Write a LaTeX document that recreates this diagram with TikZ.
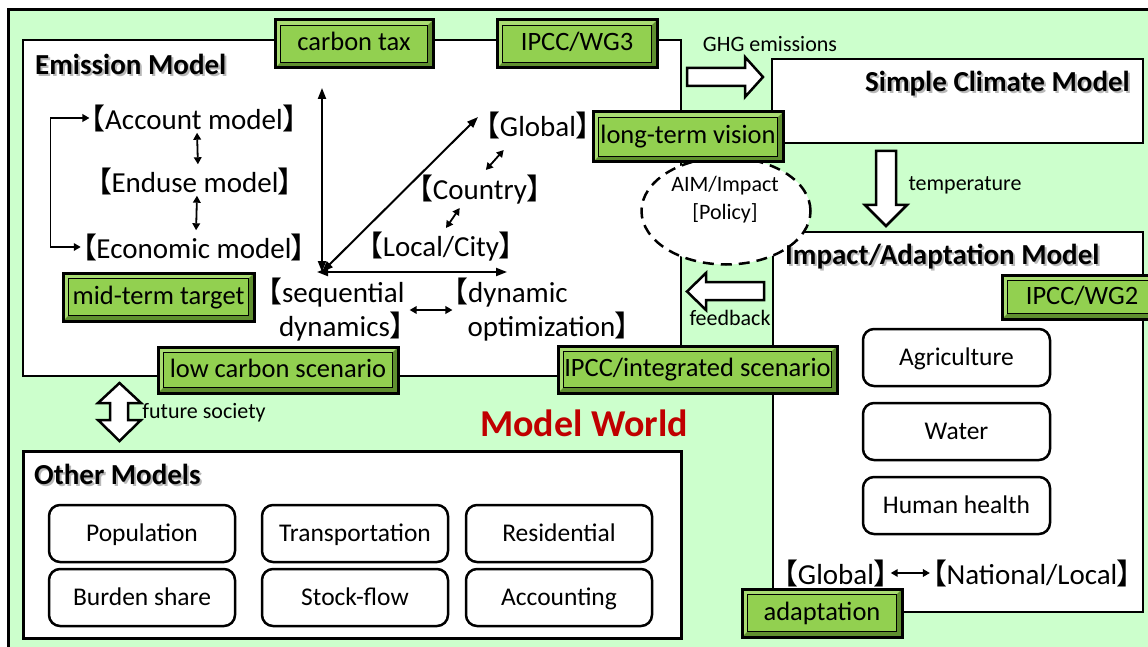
\documentclass[tikz,border=0pt]{standalone}
\usepackage{fontspec}
\setmainfont{Carlito}
\newfontfamily\cjkf[RawFeature=+palt]{Noto Sans CJK JP}
\usetikzlibrary{arrows.meta,shapes.geometric,calc}
\newcommand{\lbk}{{\cjkf 【}}
\newcommand{\rbk}{{\cjkf 】}}
\definecolor{bggreen}{HTML}{CCFFCC}
\definecolor{taggreen}{HTML}{92D050}
\definecolor{taglight}{HTML}{A9DC72}
\definecolor{tagdark}{HTML}{5F8F2F}
\definecolor{mwred}{HTML}{C00000}
\tikzset{
 box/.style={draw=black, line width=2pt, fill=white, anchor=north west, inner sep=0},
 ttl/.style={font=\fontsize{29}{34}\selectfont\bfseries, inner sep=0},
 shd/.style={ttl, text=black!28},
 lbl/.style={font=\fontsize{29}{34}\selectfont, inner sep=0},
 sml/.style={font=\fontsize{22}{28}\selectfont, inner sep=0},
 tag/.style={draw=black, line width=3pt, fill=taglight, inner sep=0,
   text height=18pt, text depth=4pt,
   font=\fontsize{26.5}{30}\selectfont,
   path picture={
     \fill[tagdark] (path picture bounding box.south west) -| (path picture bounding box.north east)
        -- ([shift={(-5.5pt,-5.5pt)}]path picture bounding box.north east)
        |- ([shift={(5.5pt,5.5pt)}]path picture bounding box.south west) -- cycle;
     \draw[line width=1.8pt, fill=taggreen] ([shift={(5.5pt,5.5pt)}]path picture bounding box.south west)
        rectangle ([shift={(-5.5pt,-5.5pt)}]path picture bounding box.north east);
   }},
 rbox/.style={draw=black, line width=2.5pt, fill=white, rounded corners=11pt,
   minimum width=186pt, minimum height=57pt, inner sep=0, text height=17pt, text depth=1pt,
   font=\fontsize{25.5}{30}\selectfont},
 blk/.style={draw=black, fill=white, line width=2.5pt, line join=miter},
 sa/.style={{Triangle[length=7pt,width=7.5pt]}-{Triangle[length=7pt,width=7.5pt]}, line width=1.8pt},
 ax/.style={{Triangle[length=11pt,width=8pt]}-{Triangle[length=11pt,width=8pt]}, line width=2pt},
}
\begin{document}
\begin{tikzpicture}[x=1pt,y=-1pt]
\useasboundingbox (0,0) rectangle (1148,647);
\fill[white] (0,0) rectangle (1148,647);
\clip (0,0) rectangle (1148,647);
\draw[line width=3pt, fill=bggreen] (8,10) rectangle (1175,675);

% main boxes
\node[box, minimum width=658pt, minimum height=336pt] (em) at (22,39) {};
\node[box, minimum width=371pt, minimum height=84pt] (scm) at (771,58) {};
\node[box, minimum width=370pt, minimum height=380pt] (iam) at (772,231) {};
\node[box, line width=2.5pt, minimum width=658pt, minimum height=187pt] (om) at (22,450) {};

% dashed ellipse
\node[ellipse, draw=black, dash pattern=on 11pt off 7pt, line width=2.5pt, fill=white,
  minimum width=169pt, minimum height=107pt, inner sep=0] (aim) at (726,211) {};
\node[sml, align=center] (aimt) at (725,200) {AIM/Impact\\{[Policy]}};

% titles
\node[shd, anchor=west] (emts) at (37,66) {Emission Model};
\node[ttl, anchor=west] (emt) at (35,64) {Emission Model};
\node[shd, anchor=east] (scmts) at (1132,86) {Simple Climate Model};
\node[ttl, anchor=east] (scmt) at (1130,84) {Simple Climate Model};
\node[shd, anchor=west] (iamts) at (787,259) {Impact/Adaptation Model};
\node[ttl, anchor=west] (iamt) at (785,257) {Impact/Adaptation Model};
\node[shd, anchor=west] (omts) at (36,476) {Other Models};
\node[ttl, anchor=west] (omt) at (34,474) {Other Models};
\node[font=\fontsize{38}{44}\selectfont\bfseries, text=mwred, inner sep=0] (mw) at (584,423) {Model World};

% emission model labels
\node[lbl] (acc) at (194,118) {\lbk Account model\rbk};
\node[lbl] (end) at (195,181) {\lbk Enduse model\rbk};
\node[lbl] (eco) at (194,247) {\lbk Economic model\rbk};
\node[lbl] (glob) at (538,125) {\lbk Global\rbk};
\node[lbl] (ctry) at (480,190) {\lbk Country\rbk};
\node[lbl] (loc) at (441,247) {\lbk Local/City\rbk};
\node[lbl, align=right] (seq) at (336,310) {\lbk sequential\\dynamics\rbk};
\node[lbl, align=left] (dyn) at (541.75,310) {\lbk dynamic\\\hspace*{14pt}optimization\rbk};

% impact labels
\node[lbl] (gl2) at (836,573) {\lbk Global\rbk};
\node[lbl] (nat) at (1032,573) {\lbk National/Local\rbk};

% rounded boxes
\node[rbox] (pop) at (142,533.5) {Population};
\node[rbox] (trn) at (355,533.5) {Transportation};
\node[rbox] (res) at (559,533.5) {Residential};
\node[rbox] (bur) at (142,597.5) {Burden share};
\node[rbox] (stk) at (355,597.5) {Stock-flow};
\node[rbox] (acn) at (559,597.5) {Accounting};
\node[rbox, minimum width=187pt] (agr) at (956.5,357.5) {Agriculture};
\node[rbox, minimum width=187pt] (wat) at (956.5,431.5) {Water};
\node[rbox, minimum width=187pt] (hum) at (956.5,505.5) {Human health};

% tags
\node[tag, minimum width=158pt, minimum height=48pt] (ctax) at (354,44) {carbon tax};
\node[tag, minimum width=160pt, minimum height=48pt] (wg3) at (577,44) {IPCC/WG3};
\node[tag, minimum width=190pt, minimum height=50pt] (ltv) at (688,137) {long-term vision};
\node[tag, minimum width=191pt, minimum height=48pt] (mtt) at (158.5,297) {mid-term target};
\node[tag, minimum width=240pt, minimum height=46pt] (lcs) at (278,370) {low carbon scenario};
\node[tag, minimum width=279pt, minimum height=47pt] (iis) at (697.5,369.5) {IPCC/integrated scenario};
\node[tag, minimum width=160pt, minimum height=44pt] (wg2) at (1082,297) {IPCC/WG2};
\node[tag, minimum width=160pt, minimum height=48pt] (adp) at (822,613) {adaptation};

% block arrows
\draw[blk] (687,68) -- (745,68) -- (745,57) -- (763,77) -- (745,97) -- (745,86) -- (687,86) -- cycle;
\draw[blk] (876,151) -- (896,151) -- (896,205) -- (907,205) -- (886,226) -- (865,205) -- (876,205) -- cycle;
\draw[blk] (764,282) -- (706,282) -- (706,273) -- (687,291.5) -- (706,310) -- (706,300) -- (764,300) -- cycle;
\draw[blk] (119.5,383) -- (141,403) -- (128,403) -- (128,420) -- (141,420) -- (119.5,441) -- (98,420) -- (110,420) -- (110,403) -- (98,403) -- cycle;
\node[sml] (ghg) at (770,44) {GHG emissions};
\node[sml] (tmp) at (965,185) {temperature};
\node[sml] (fbk) at (730,318) {feedback};
\node[sml] (fut) at (204,413) {future society};

% connectors
\draw[sa, shorten <=1pt, shorten >=3pt] ([xshift=3pt]acc.south) -- ([xshift=3pt]end.north);
\draw[sa, shorten <=1pt, shorten >=3pt] ([xshift=2pt]end.south) -- ([xshift=2pt]eco.north);
\draw[sa, shorten <=1pt, shorten >=1pt] (acc.west) -- ++(-40,0) |- (eco.west);
\coordinate (O) at (322,272);
\coordinate (vt) at (322,88);
\coordinate (ht) at (507,272);
\coordinate (dt) at (478,117);
\draw[ax] (O) -- (vt);
\draw[ax] (O) -- (dt);
\draw[ax] ([xshift=-5pt]O) -- (ht);
\draw[sa, shorten <=26.8pt, shorten >=33.5pt] ([xshift=-12pt]ctry.center) -- ([xshift=-12pt]glob.center);
\draw[sa, shorten <=23pt, shorten >=21.8pt] ([xshift=-8pt]loc.center) -- ([xshift=-8pt]ctry.center);
\draw[sa, shorten <=5pt, shorten >=1pt] (seq.east) -- (dyn.west);
\draw[sa, shorten <=2pt, shorten >=2pt] (gl2.east) -- (nat.west);
\end{tikzpicture}
\end{document}
